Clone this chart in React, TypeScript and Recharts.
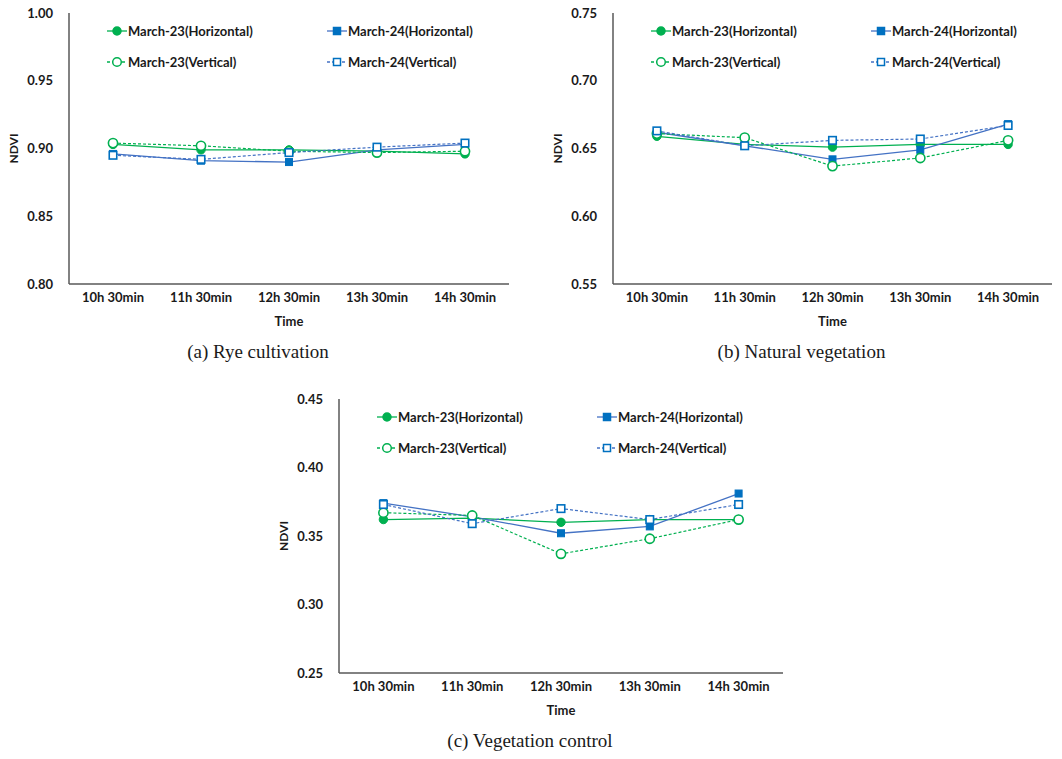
import React from 'react';
import { LineChart, Line, XAxis, YAxis, Legend } from 'recharts';

// time slots on the x axis
const TIMES = ['10h 30min', '11h 30min', '12h 30min', '13h 30min', '14h 30min'];

// (a) Rye cultivation
const RYE_M23_H = [0.903, 0.899, 0.899, 0.898, 0.896];
const RYE_M24_H = [0.896, 0.891, 0.890, 0.899, 0.903];
const RYE_M23_V = [0.904, 0.902, 0.898, 0.897, 0.898];
const RYE_M24_V = [0.895, 0.892, 0.897, 0.901, 0.904];
const RYE_TICKS = [0.8, 0.85, 0.9, 0.95, 1.0];

// (b) Natural vegetation
const NAT_M23_H = [0.659, 0.653, 0.651, 0.653, 0.653];
const NAT_M24_H = [0.662, 0.652, 0.642, 0.649, 0.668];
const NAT_M23_V = [0.661, 0.658, 0.637, 0.643, 0.656];
const NAT_M24_V = [0.663, 0.652, 0.656, 0.657, 0.667];
const NAT_TICKS = [0.55, 0.6, 0.65, 0.7, 0.75];

// (c) Vegetation control
const CTL_M23_H = [0.362, 0.363, 0.360, 0.362, 0.362];
const CTL_M24_H = [0.374, 0.364, 0.352, 0.357, 0.381];
const CTL_M23_V = [0.367, 0.365, 0.337, 0.348, 0.362];
const CTL_M24_V = [0.373, 0.359, 0.370, 0.362, 0.373];
const CTL_TICKS = [0.25, 0.3, 0.35, 0.4, 0.45];

const SERIES_NAMES = ['March-23(Horizontal)', 'March-24(Horizontal)', 'March-23(Vertical)', 'March-24(Vertical)'];

const GREEN = '#00b050';
const BLUE_LINE = '#4472c4';
const BLUE_MK = '#0070c0';
const AXIS = '#595959';
const FONT = 'Lato, "Open Sans", sans-serif';
const INK = '#1a1a1a';

const circleDot = (filled: boolean) => (p: any) => (
    <circle
        key={`c${p.index}`}
        cx={p.cx}
        cy={p.cy}
        r={filled ? 4.2 : 4.6}
        fill={filled ? GREEN : '#fff'}
        stroke={GREEN}
        strokeWidth={filled ? 1 : 1.6}
    />
);

const squareDot = (filled: boolean) => (p: any) => {
    const s = filled ? 7 : 7.5;
    return (
        <rect
            key={`s${p.index}`}
            x={p.cx - s / 2}
            y={p.cy - s / 2}
            width={s}
            height={s}
            fill={filled ? BLUE_MK : '#fff'}
            stroke={BLUE_MK}
            strokeWidth={filled ? 1 : 1.6}
        />
    );
};

const LegendIcon = ({ idx }: { idx: number }) => {
    const green = idx % 2 === 0;
    const filled = idx < 2;
    const color = green ? GREEN : BLUE_LINE;
    return (
        <svg width={20} height={12} style={{ display: 'block' }}>
            <line x1={0} y1={6} x2={20} y2={6} stroke={color} strokeWidth={1.3} strokeDasharray={filled ? undefined : '3 2'} />
            {green ? (
                <circle cx={10} cy={6} r={filled ? 4 : 4.3} fill={filled ? GREEN : '#fff'} stroke={GREEN} strokeWidth={1.5} />
            ) : (
                <rect x={6.5} y={2.5} width={7} height={7} fill={filled ? BLUE_MK : '#fff'} stroke={BLUE_MK} strokeWidth={1.5} />
            )}
        </svg>
    );
};

const LegendBox = () => (
    <div style={{ display: 'grid', gridTemplateColumns: '220px 220px', fontFamily: FONT, fontWeight: 700, fontSize: 13, color: INK }}>
        {SERIES_NAMES.map((n, i) => (
            <div key={n} style={{ display: 'flex', alignItems: 'center', height: 31 }}>
                <LegendIcon idx={i} />
                <span style={{ marginLeft: 1 }}>{n}</span>
            </div>
        ))}
    </div>
);

const YLabel = (props: any) => {
    const vb = props.viewBox || { x: 0, y: 0, width: 0, height: 0 };
    const cx = vb.x + 13;
    const cy = vb.y + vb.height / 2;
    return (
        <text x={cx} y={cy} transform={`rotate(-90, ${cx}, ${cy})`} textAnchor="middle" dominantBaseline="central"
            fontFamily={FONT} fontWeight={700} fontSize={12} fill={INK}>NDVI</text>
    );
};

interface PanelProps {
    m23h: number[];
    m24h: number[];
    m23v: number[];
    m24v: number[];
    ticks: number[];
    left: number;
    top: number;
    plotW: number;
    plotH: number;
    caption: string;
}

const Panel: React.FC<PanelProps> = ({ m23h, m24h, m23v, m24v, ticks, left, top, plotW, plotH, caption }) => {
    const data = TIMES.map((t, i) => ({ time: t, m23h: m23h[i], m24h: m24h[i], m23v: m23v[i], m24v: m24v[i] }));
    const tickStyle = { fill: INK, fontSize: 13, fontWeight: 700, fontFamily: FONT };
    const domain = [ticks[0], ticks[ticks.length - 1]];
    const w = 69 + plotW + 10;
    const h = 13 + plotH + 46;
    return (
        <>
            <div style={{ position: 'absolute', left, top }}>
                <LineChart width={w} height={h} data={data} margin={{ top: 13, right: 10, left: 0, bottom: 0 }}>
                    <XAxis dataKey="time" scale="band" interval={0} tickLine={false} tickSize={0} tickMargin={9}
                        axisLine={{ stroke: AXIS, strokeWidth: 1.5 }} tick={tickStyle} height={46}
                        label={{ value: 'Time', position: 'insideBottom', offset: 4, fill: INK, fontSize: 13, fontWeight: 700, fontFamily: FONT }} />
                    <XAxis xAxisId="top" orientation="top" dataKey="time" height={0} tick={false} tickLine={false}
                        axisLine={{ stroke: AXIS, strokeWidth: 1.5 }} />
                    <YAxis domain={domain} ticks={ticks} width={69} tickLine={false} tickSize={0} tickMargin={16}
                        tickFormatter={(v) => v.toFixed(2)} tick={tickStyle} axisLine={{ stroke: AXIS, strokeWidth: 1.5 }}
                        label={<YLabel />} />
                    <YAxis yAxisId="right" orientation="right" domain={domain} width={0} tick={false} tickLine={false}
                        axisLine={{ stroke: AXIS, strokeWidth: 1.5 }} />
                    <Legend layout="horizontal" verticalAlign="middle" align="center" content={() => <LegendBox />}
                        wrapperStyle={{ top: 15, left: 107, width: 460, height: 62 }} />
                    <Line type="linear" dataKey="m23h" stroke={GREEN} strokeWidth={1.3} dot={circleDot(true)} activeDot={false} isAnimationActive={false} />
                    <Line type="linear" dataKey="m24h" stroke={BLUE_LINE} strokeWidth={1.3} dot={squareDot(true)} activeDot={false} isAnimationActive={false} />
                    <Line type="linear" dataKey="m23v" stroke={GREEN} strokeWidth={1.2} strokeDasharray="3 2" dot={circleDot(false)} activeDot={false} isAnimationActive={false} />
                    <Line type="linear" dataKey="m24v" stroke={BLUE_LINE} strokeWidth={1.2} strokeDasharray="3 2" dot={squareDot(false)} activeDot={false} isAnimationActive={false} />
                </LineChart>
            </div>
            <div style={{
                position: 'absolute', left: left + 69 + plotW / 2 - 31, top: top + 13 + plotH + 57,
                transform: 'translateX(-50%)', whiteSpace: 'nowrap',
                fontFamily: '"Liberation Serif", "Times New Roman", serif', fontSize: 19, color: INK, lineHeight: '22px'
            }}>{caption}</div>
        </>
    );
};

export default function App() {
    return (
        <div style={{ position: 'absolute', left: 0, top: 0, width: 1062, height: 759, background: '#fff', overflow: 'hidden' }}>
            <Panel m23h={RYE_M23_H} m24h={RYE_M24_H} m23v={RYE_M23_V} m24v={RYE_M24_V} ticks={RYE_TICKS}
                left={0} top={0} plotW={440} plotH={271} caption="(a) Rye cultivation" />
            <Panel m23h={NAT_M23_H} m24h={NAT_M24_H} m23v={NAT_M23_V} m24v={NAT_M24_V} ticks={NAT_TICKS}
                left={544} top={0} plotW={439} plotH={271} caption="(b) Natural vegetation" />
            <Panel m23h={CTL_M23_H} m24h={CTL_M24_H} m23v={CTL_M23_V} m24v={CTL_M24_V} ticks={CTL_TICKS}
                left={270} top={386} plotW={444} plotH={274} caption="(c) Vegetation control" />
        </div>
    );
}
